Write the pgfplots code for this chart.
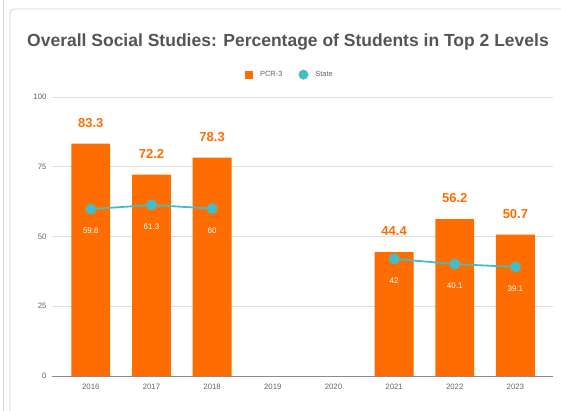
\documentclass[border=0pt]{standalone}
\usepackage{fontspec}
\setmainfont{Liberation Sans}
\usepackage{pgfplots}
\pgfplotsset{compat=1.18}
\definecolor{pcr}{HTML}{FF6D01}
\definecolor{st}{HTML}{46BDC6}
\definecolor{titlegray}{HTML}{555555}
\definecolor{tickgray}{HTML}{666666}
\definecolor{gridgray}{HTML}{DDDDDD}
\definecolor{framegray}{HTML}{D6D6D6}
\begin{document}
\begin{tikzpicture}[x=1pt,y=1pt]
\path[use as bounding box] (0,0) rectangle (561,411);
\fill[white] (0,0) rectangle (561,411);
\draw[framegray,line width=0.8pt] (3,0) -- (3,411);
\draw[framegray,line width=0.8pt] (10,0) -- (10,398) arc[start angle=180,end angle=90,radius=4] -- (561,402);
\node[font=\fontsize{17.5}{20}\selectfont\bfseries,text=titlegray] at (288,369) {Overall Social Studies: Percentage of Students in Top 2 Levels};
\begin{axis}[
  at={(52pt,35pt)}, anchor=south west,
  scale only axis, width=501pt, height=279pt,
  xmin=-0.64, xmax=7.62, ymin=0, ymax=100,
  xtick={0,1,2,3,4,5,6,7},
  xticklabels={2016,2017,2018,2019,2020,2021,2022,2023},
  ytick={0,25,50,75,100},
  /pgf/number format/assume math mode=true,
  tick label style={font=\fontsize{7.8}{9}\selectfont, text=tickgray},
  major tick length=0pt,
  axis x line*=bottom, axis y line*=left,
  y axis line style={draw=none},
  x axis line style={draw=black!45, line width=0.8pt},
  ymajorgrids, grid style={gridgray, line width=0.7pt},
  xticklabel style={yshift=-5pt},
  yticklabel style={xshift=-2pt},
  unbounded coords=jump,
  legend columns=2,
  legend style={at={(0.475,1.08)}, anchor=center, draw=none, fill=none,
    font=\fontsize{7.5}{9}\selectfont, text=tickgray,
    /tikz/every odd column/.append style={column sep=5pt},
    /tikz/every even column/.append style={column sep=14pt}},
]
\addplot[ybar, bar width=0.64, fill=pcr, draw=none,
  nodes near coords,
  every node near coord/.append style={anchor=center, yshift=21pt, text=pcr, font=\fontsize{13}{15}\selectfont\bfseries},
  legend image code/.code={\fill[pcr] (0pt,-4pt) rectangle (8pt,4pt);}]
  coordinates {(0,83.3) (1,72.2) (2,78.3) (5,44.4) (6,56.2) (7,50.7)};
\addlegendentry{PCR-3}
\addplot[st, line width=1.8pt, mark=*, mark size=4.5pt, mark options={fill=st, draw=st},
  nodes near coords,
  every node near coord/.append style={anchor=center, yshift=-22pt, text=white, font=\fontsize{8}{9}\selectfont},
  legend image code/.code={\fill[st] (4pt,0pt) circle (4pt);}]
  coordinates {(0,59.8) (1,61.3) (2,60) (3,nan) (4,nan) (5,42) (6,40.1) (7,39.1)};
\addlegendentry{State}
\end{axis}
\end{tikzpicture}
\end{document}
